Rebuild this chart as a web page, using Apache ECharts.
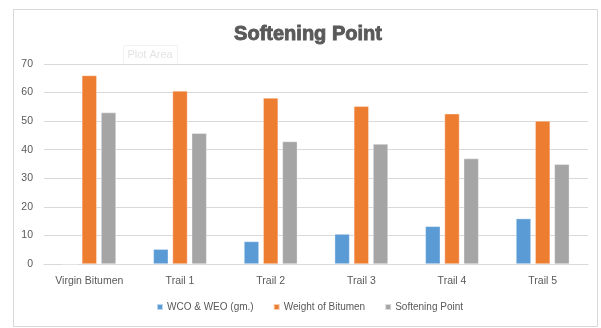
<!DOCTYPE html>
<html>
<head>
<meta charset="utf-8">
<script src="https://cdn.jsdelivr.net/npm/echarts@6/dist/echarts.min.js"></script>
<style>
  html, body { margin: 0; padding: 0; background: #ffffff; }
  #chart { width: 601px; height: 328px; }
</style>
</head>
<body>
<div id="chart"></div>
<script>
// Categories and measured values per mix
const categories = ['Virgin Bitumen', 'Trail 1', 'Trail 2', 'Trail 3', 'Trail 4', 'Trail 5'];
const wcoWeo = [0, 5.2, 7.9, 10.5, 13.2, 15.9];
const bitumenWeight = [66, 60.6, 58.1, 55.2, 52.6, 50.1];
const softeningPoint = [53, 45.8, 42.9, 42, 36.9, 34.9];
const yTicks = [0, 10, 20, 30, 40, 50, 60, 70];

const textColor = '#595959';
const font = 'Liberation Sans';

const chart = echarts.init(document.getElementById('chart'), null, { renderer: 'canvas' });

function barSeries(name, data, color) {
  return {
    name: name,
    type: 'bar',
    data: data,
    barWidth: 15,
    barGap: '28%',
    itemStyle: { color: color, borderColor: 'rgba(255,255,255,0.6)', borderWidth: 0.6 }
  };
}

chart.setOption({
  animation: false,
  color: ['#5B9BD5', '#ED7D31', '#A5A5A5'],
  graphic: [
    {
      type: 'rect',
      shape: { x: 13.5, y: 9.5, width: 584, height: 317 },
      style: { fill: 'none', stroke: '#d9d9d9', lineWidth: 1 },
      silent: true
    },
    {
      type: 'rect',
      shape: { x: 123.5, y: 45.5, width: 54, height: 19 },
      style: { fill: 'none', stroke: '#f2f2f2', lineWidth: 1 },
      silent: true
    },
    {
      type: 'text',
      x: 150, y: 55,
      style: { text: 'Plot Area', fill: '#e3e3e3', font: '11px ' + font, align: 'center', verticalAlign: 'middle' },
      silent: true
    },
    {
      // chart title, stroked slightly for a heavier weight
      type: 'text',
      x: 308, y: 34,
      style: {
        text: 'Softening Point',
        fill: textColor,
        font: 'bold 20px ' + font,
        align: 'center',
        verticalAlign: 'middle',
        stroke: textColor,
        lineWidth: 0.9
      },
      silent: true
    }
  ],
  legend: {
    bottom: 11,
    left: 151,
    itemWidth: 6,
    itemHeight: 6,
    itemGap: 19,
    icon: 'rect',
    textStyle: { color: textColor, fontFamily: font, fontSize: 10, padding: [0, 0, 0, -1] },
    data: ['WCO & WEO (gm.)', 'Weight of Bitumen', 'Softening Point']
  },
  grid: { left: 44, right: 13, top: 64, bottom: 64 },
  xAxis: {
    type: 'category',
    data: categories,
    axisLine: { lineStyle: { color: '#d9d9d9', width: 1 } },
    axisTick: { show: false },
    axisLabel: { color: textColor, fontFamily: font, fontSize: 10.5, margin: 12 }
  },
  yAxis: {
    type: 'value',
    min: yTicks[0],
    max: yTicks[yTicks.length - 1],
    interval: 10,
    axisLine: { show: false },
    axisTick: { show: false },
    axisLabel: { color: textColor, fontFamily: font, fontSize: 10.5, margin: 11 },
    splitLine: { lineStyle: { color: '#d9d9d9', width: 1 } }
  },
  series: [
    barSeries('WCO & WEO (gm.)', wcoWeo, '#5B9BD5'),
    barSeries('Weight of Bitumen', bitumenWeight, '#ED7D31'),
    barSeries('Softening Point', softeningPoint, '#A5A5A5')
  ]
});
</script>
</body>
</html>
